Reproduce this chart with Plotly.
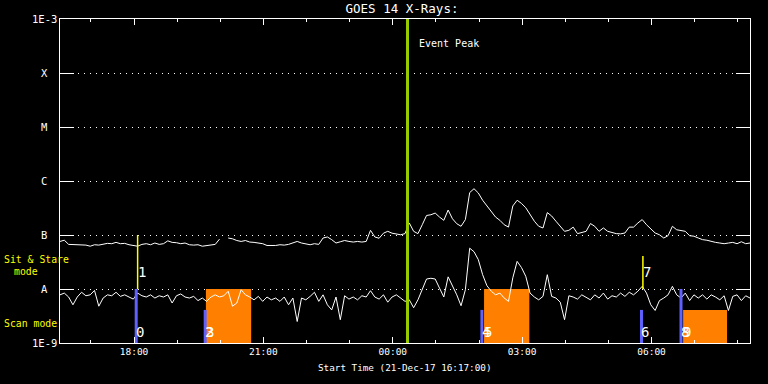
import numpy as np
import pandas as pd
import plotly.graph_objects as go

# ---------------- data ----------------
start_time = "2017-12-21 16:17:00"
n_samples = 161                      # 6-minute samples over 16 h
sample_step = "6min"

# GOES long channel (1-8 A), nW/m^2   (None = data gap)
long_flux_nw = [
    76, 80, 67, 66, 67, 65, 65, 62, 66, 65,
    67, 70, 69, 73, 69, 70, 66, 65, 62, 67,
    69, 66, 71, 67, 69, 78, 73, 72, 69, 71,
    66, 65, 66, 62, 63, 66, 67, 84, None, 88,
    85, 79, 76, 79, 74, 73, 71, 69, 64, 63,
    64, 66, 65, 67, 71, 76, 71, 69, 66, 69,
    67, 88, 92, 82, 71, 75, 79, 76, 74, 76,
    74, 76, 122, 92, 87, 108, 117, 108, 106, 101,
    106, 167, 117, 106, 155, 230, 237, 255, 215, 187,
    290, 200, 162, 145, 193, 610, 720, 600, 440, 345,
    265, 215, 187, 155, 140, 345, 440, 385, 320, 237,
    180, 145, 135, 260, 225, 180, 145, 117, 122, 140,
    106, 112, 117, 163, 145, 117, 135, 117, 112, 106,
    105, 109, 140, 140, 167, 193, 155, 130, 109, 101,
    88, 97, 145, 125, 122, 117, 97, 95, 88, 82,
    80, 76, 73, 71, 69, 71, 73, 69, 75, 69, 71,
]

# GOES short channel (0.5-4 A), nW/m^2
short_flux_nw = [
    7.8, 8.4, 7.1, 5.1, 7.1, 8.7, 7.5, 7.8, 9.4, 4.8,
    6.8, 7.8, 7.5, 8.7, 7.3, 7.8, 7.1, 6.5, 8.4, 7.5,
    7.1, 7.8, 6.8, 7.5, 7.1, 7.8, 5.5, 7.5, 8.1, 7.1,
    6.8, 7.3, 6.1, 6.8, 5.9, 7.1, 7.8, 7.1, 7.5, 9.1,
    4.8, 5.5, 9.7, 7.8, 7.1, 6.3, 7.3, 5.9, 7.1, 6.3,
    6.8, 5.9, 7.1, 5.1, 6.8, 2.5, 6.8, 6.3, 7.3, 8.7,
    5.9, 7.8, 5.1, 4.1, 7.1, 2.7, 7.5, 6.5, 7.1, 6.3,
    7.5, 7.1, 9.3, 7.1, 6.5, 7.8, 5.7, 7.1, 7.8, 6.8,
    5.9, 6.3, 4.5, 6.3, 9.7, 15.3, 15.8, 15.3, 10.4, 7.1,
    16.8, 11.5, 7.8, 4.9, 9.7, 57, 49, 35, 18.4, 11.5,
    9.1, 7.8, 8.4, 6.8, 5.9, 16.1, 32.5, 25, 17.2, 8.4,
    7.1, 6.3, 7.3, 18.4, 7.3, 6.8, 5.7, 2.7, 7.5, 7.1,
    6.5, 7.8, 7.1, 6.3, 7.8, 6.8, 8.4, 6.5, 7.5, 7.1,
    8.4, 7.3, 8.7, 7.8, 9.1, 11.2, 8.4, 5.1, 4.0, 6.1,
    6.8, 7.8, 11.2, 7.8, 6.8, 8.4, 6.1, 7.8, 6.8, 7.8,
    6.5, 7.8, 7.1, 6.3, 7.5, 4.0, 7.3, 7.8, 6.1, 7.5, 6.8,
]

# scan-mode start markers (blue bars)
scan_bar_times = ["2017-12-21 18:03", "2017-12-21 19:39", "2017-12-22 02:04",
                  "2017-12-22 05:46", "2017-12-22 06:41"]
scan_bar_tops = [1e-8, 4.1e-9, 4.1e-9, 4.1e-9, 1e-8]

# scan-mode durations (orange blocks)
scan_block_start = ["2017-12-21 19:40", "2017-12-22 02:07", "2017-12-22 06:44"]
scan_block_end = ["2017-12-21 20:43", "2017-12-22 03:10", "2017-12-22 07:45"]
scan_block_top = [1e-8, 1e-8, 4.1e-9]

# sit & stare markers (yellow lines)
stare_times = ["2017-12-21 18:05", "2017-12-22 05:48"]
stare_tops = [1e-7, 4.1e-8]

# observation numbers
event_labels = ["0", "1", "2", "3", "4", "5", "6", "7", "8", "9"]
event_times = ["2017-12-21 18:03", "2017-12-21 18:05", "2017-12-21 19:39", "2017-12-21 19:40",
               "2017-12-22 02:04", "2017-12-22 02:07", "2017-12-22 05:46", "2017-12-22 05:48",
               "2017-12-22 06:41", "2017-12-22 06:44"]
event_modes = ["scan", "stare", "scan", "scan", "scan", "scan", "scan", "stare", "scan", "scan"]

peak_time = "2017-12-22 00:20:30"

y_tick_vals = [1e-9, 1e-8, 1e-7, 1e-6, 1e-5, 1e-4, 1e-3]
y_tick_text = ["1E-9", "A", "B", "C", "M", "X", "1E-3"]

title_text = "GOES 14 X-Rays:"
x_title_text = "Start Time (21-Dec-17 16:17:00)"

# ---------------- figure ----------------
FONT = "DejaVu Sans Mono"
floor = 1e-9
t0 = pd.Timestamp(start_time)
times = pd.date_range(t0, periods=n_samples, freq=sample_step)
t_end = t0 + pd.Timedelta(hours=16)

long_flux = [None if v is None else v * 1e-9 for v in long_flux_nw]
short_flux = [v * 1e-9 for v in short_flux_nw]

fig = go.Figure()

# orange scan blocks
bx, by = [], []
for s, e, top in zip(scan_block_start, scan_block_end, scan_block_top):
    bx += [s, s, e, e, s, None]
    by += [floor, top, top, floor, floor, None]
fig.add_trace(go.Scatter(x=bx, y=by, mode="lines", fill="toself",
                         fillcolor="#FF8000", line=dict(width=0, color="#FF8000"),
                         hoverinfo="skip"))

# curves
fig.add_trace(go.Scatter(x=times, y=long_flux, mode="lines",
                         line=dict(color="white", width=1), connectgaps=False))
fig.add_trace(go.Scatter(x=times, y=short_flux, mode="lines",
                         line=dict(color="white", width=1)))

# blue scan bars
sx, sy = [], []
for t, top in zip(scan_bar_times, scan_bar_tops):
    sx += [t, t, None]
    sy += [floor, top, None]
fig.add_trace(go.Scatter(x=sx, y=sy, mode="lines",
                         line=dict(color="#6060FF", width=3), hoverinfo="skip"))

# yellow sit & stare lines
yx, yy = [], []
for t, top in zip(stare_times, stare_tops):
    yx += [t, t, None]
    yy += [1e-8, top, None]
fig.add_trace(go.Scatter(x=yx, y=yy, mode="lines",
                         line=dict(color="#FFFF00", width=1.5), hoverinfo="skip"))

# event peak line
fig.add_trace(go.Scatter(x=[peak_time, peak_time], y=[1e-9, 1e-3], mode="lines",
                         line=dict(color="#99CC00", width=3), hoverinfo="skip"))

annotations = []
# y labels centered
for v, txt in zip(y_tick_vals, y_tick_text):
    annotations.append(dict(x=(44 - 60) / 690, xref="paper", y=np.log10(v), yref="y",
                            text=txt, showarrow=False, xanchor="center", yanchor="middle",
                            font=dict(family=FONT, size=10.5, color="white")))
# event numbers
for lab, t, m in zip(event_labels, event_times, event_modes):
    yv = np.log10(1.6e-9) if m == "scan" else np.log10(2.1e-8)
    annotations.append(dict(x=t, xref="x", y=yv, yref="y", text=lab, showarrow=False,
                            xanchor="left", yanchor="middle", xshift=-2,
                            font=dict(family=FONT, size=14, color="white")))
# Event Peak label
annotations.append(dict(x=peak_time, xref="x", y=(343 - 43) / 324, yref="paper",
                        text="Event Peak", showarrow=False, xanchor="left", yanchor="middle",
                        xshift=9, font=dict(family=FONT, size=10, color="white")))
# mode labels
annotations.append(dict(x=(2 - 60) / 690, xref="paper", y=(343 - 259) / 324, yref="paper",
                        text="Sit & Stare", showarrow=False, xanchor="left", yanchor="middle",
                        font=dict(family=FONT, size=9.8, color="#FFFF00")))
annotations.append(dict(x=(12 - 60) / 690, xref="paper", y=(343 - 271) / 324, yref="paper",
                        text="mode", showarrow=False, xanchor="left", yanchor="middle",
                        font=dict(family=FONT, size=9.8, color="#FFFF00")))
annotations.append(dict(x=(2 - 60) / 690, xref="paper", y=(343 - 323.5) / 324, yref="paper",
                        text="Scan mode", showarrow=False, xanchor="left", yanchor="middle",
                        font=dict(family=FONT, size=9.8, color="#FFFF00")))
# x-axis title
annotations.append(dict(x=(405 - 60) / 690, xref="paper", y=-(368 - 343) / 324, yref="paper",
                        text=x_title_text, showarrow=False, xanchor="center", yanchor="middle",
                        font=dict(family=FONT, size=9.3, color="white")))

fig.update_layout(
    width=768, height=384,
    margin=dict(l=60, r=18, t=19, b=41),
    paper_bgcolor="black", plot_bgcolor="black",
    showlegend=False,
    title=dict(text=title_text, x=402 / 768, xanchor="center", xref="container",
               y=1 - 9 / 384, yanchor="middle", yref="container",
               font=dict(family=FONT, size=12.5, color="white")),
    annotations=annotations,
    xaxis=dict(type="date", range=[t0, t_end], showline=True, linecolor="white", linewidth=1,
               mirror="ticks", ticks="inside", ticklen=6, tickcolor="white", tickwidth=1,
               dtick=3 * 3600 * 1000, tick0="2017-12-21 18:00", tickformat="%H:%M",
               tickfont=dict(family=FONT, size=9.5, color="white"),
               showgrid=False, zeroline=False,
               minor=dict(dtick=3600 * 1000, tick0="2017-12-21 18:00", ticks="inside",
                          ticklen=3, tickcolor="white", showgrid=False)),
    yaxis=dict(type="log", range=[-9, -3], showline=True, linecolor="white", linewidth=1,
               mirror="ticks", ticks="inside", ticklen=14, tickcolor="white",
               tickvals=y_tick_vals, showticklabels=False,
               showgrid=True, gridcolor="white", gridwidth=1, griddash="1px,5px",
               zeroline=False),
)

fig.write_html("out.html")
